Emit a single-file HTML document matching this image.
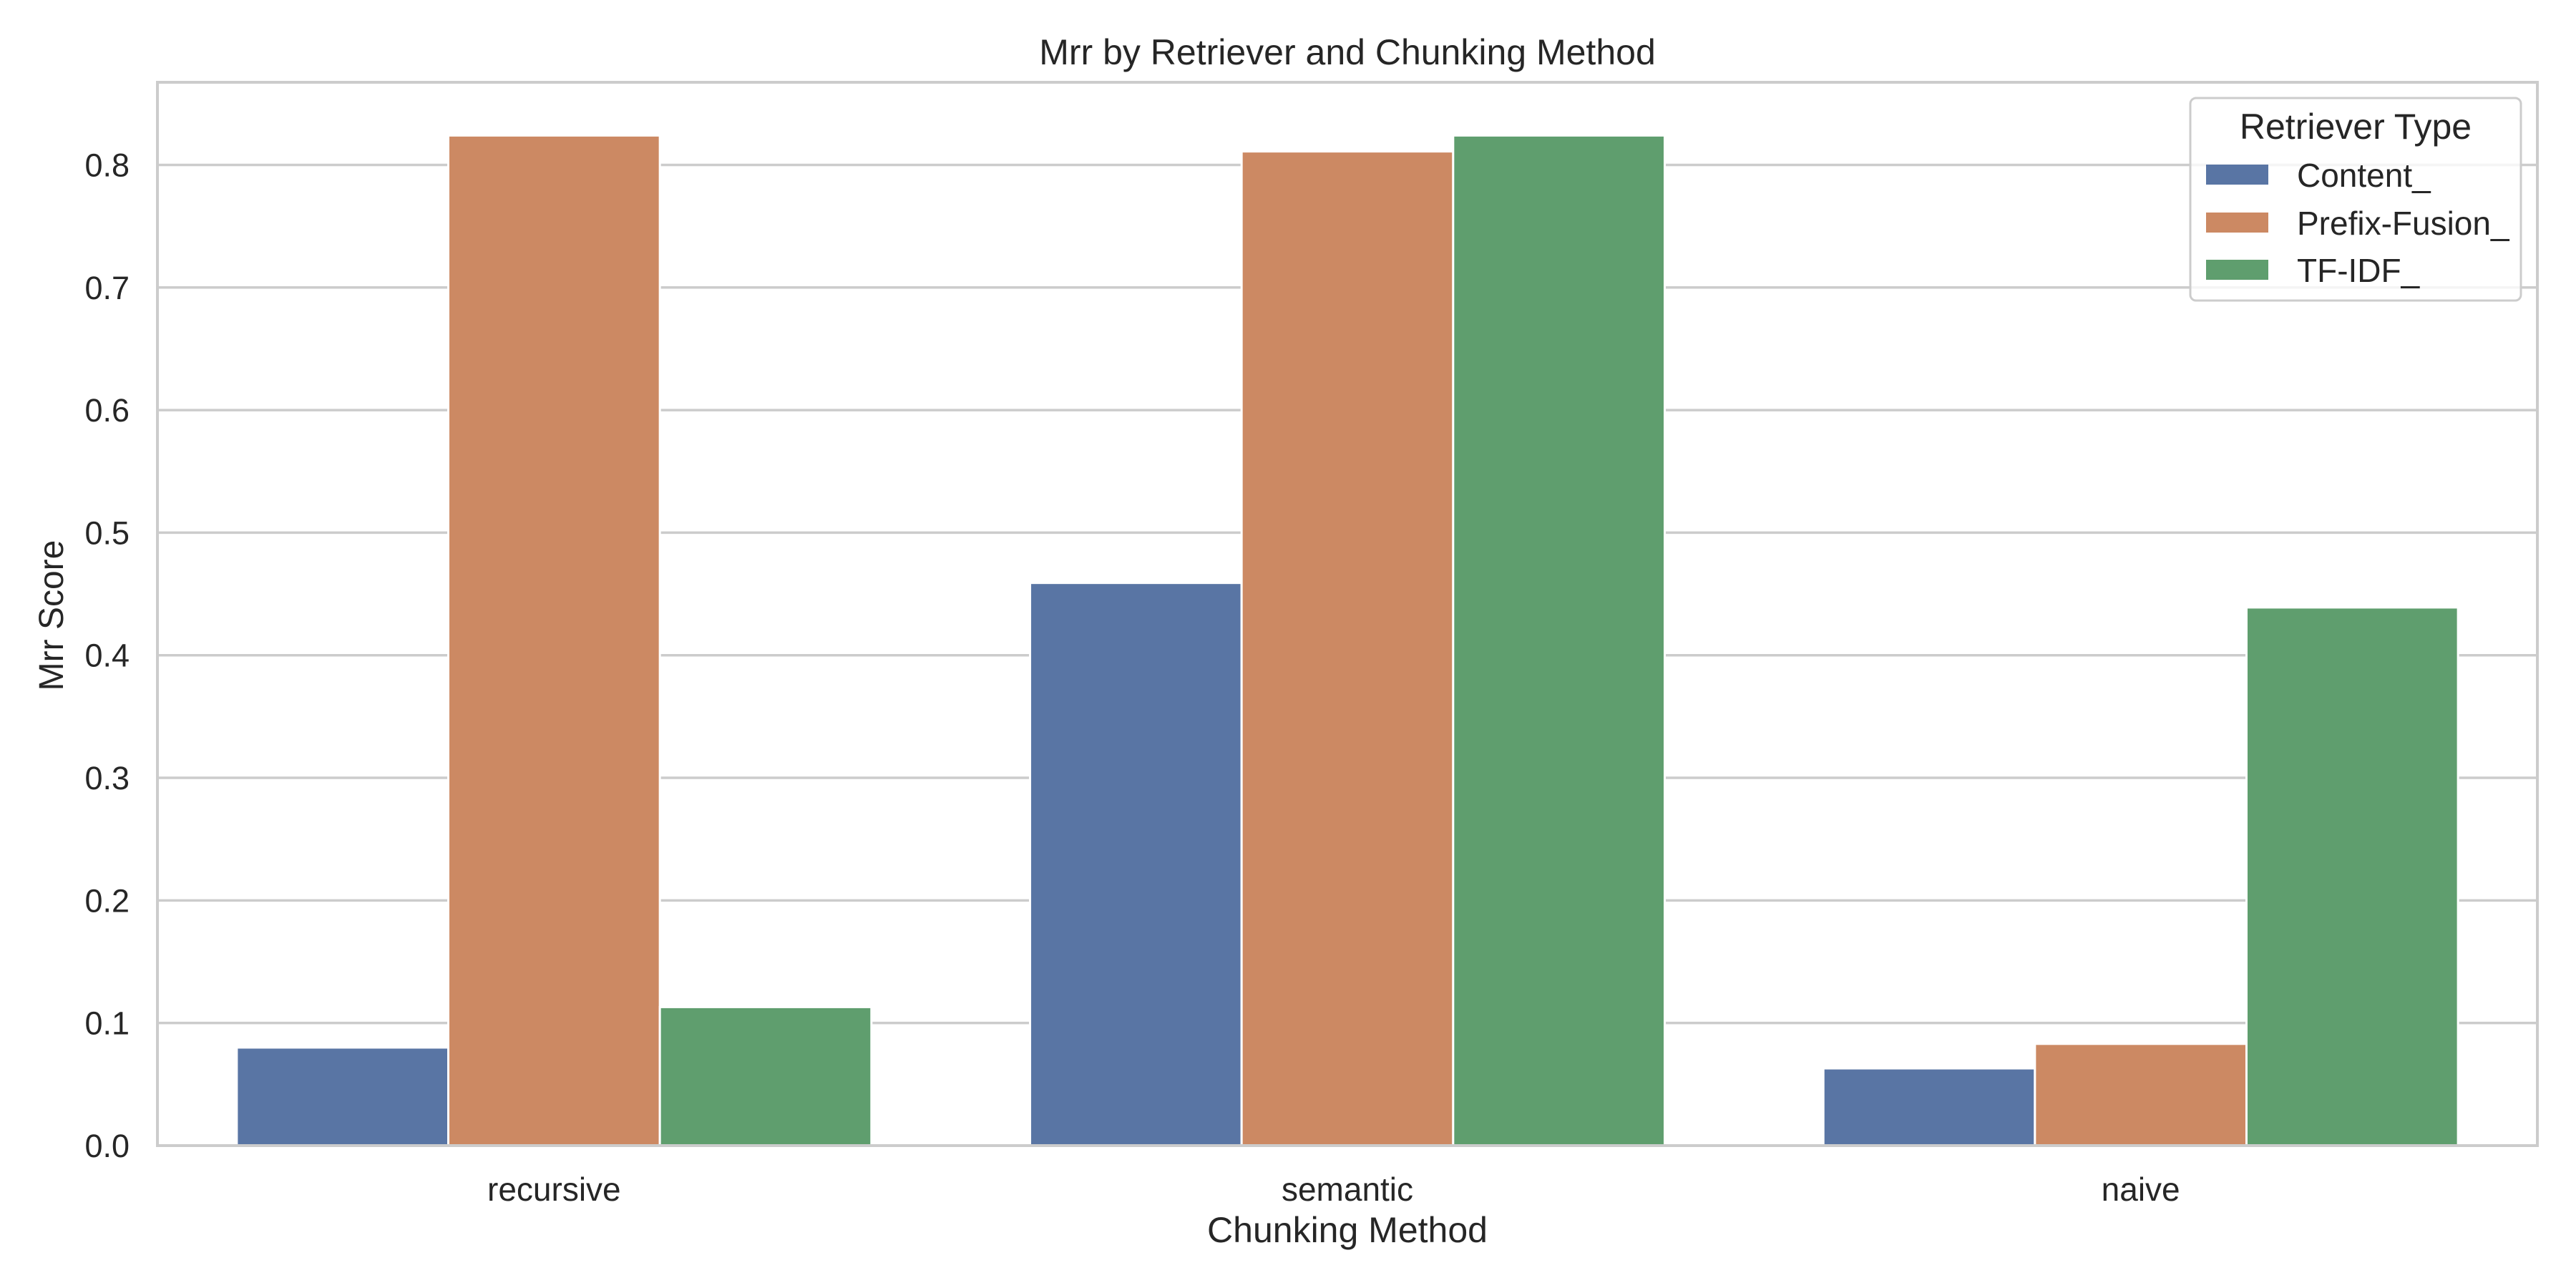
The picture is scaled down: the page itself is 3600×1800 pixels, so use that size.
<!DOCTYPE html>
<html><head><meta charset="utf-8"><style>
html,body{margin:0;padding:0;background:#fff}
svg{display:block;font-family:"Liberation Sans",Arial,sans-serif}
</style></head><body>
<svg id="chart" width="3600" height="1800" viewBox="0 0 3600 1800" xmlns="http://www.w3.org/2000/svg">
<rect x="0" y="0" width="3600" height="1800" fill="#fff"/>
<text x="1883" y="90" text-anchor="middle" font-size="50" fill="#262626">Mrr by Retriever and Chunking Method</text>
<g id="grid"></g>
<g id="bars"></g>
<g id="axes"></g>
<text transform="translate(88,860) rotate(-90)" text-anchor="middle" font-size="48" fill="#262626">Mrr Score</text>
<text x="1883" y="1736" text-anchor="middle" font-size="50" fill="#262626">Chunking Method</text>
<g id="legend">
<rect x="3061" y="137" width="462" height="283" rx="8" fill="#fff" fill-opacity="0.8" stroke="#ccc" stroke-width="3"/>
<text x="3292" y="194" text-anchor="middle" font-size="50" fill="#262626">Retriever Type</text>
</g>
</svg>
<script>
const categories = ["recursive", "semantic", "naive"];
const seriesNames = ["Content_", "Prefix-Fusion_", "TF-IDF_"];
const contentValues = [0.080, 0.459, 0.063];
const prefixFusionValues = [0.824, 0.811, 0.083];
const tfidfValues = [0.113, 0.824, 0.439];
const yTicks = [0.0, 0.1, 0.2, 0.3, 0.4, 0.5, 0.6, 0.7, 0.8];
const yTickLabels = ["0.0", "0.1", "0.2", "0.3", "0.4", "0.5", "0.6", "0.7", "0.8"];

const NS = "http://www.w3.org/2000/svg";
const colors = ["#5975a4", "#cc8963", "#5f9e6e"];
const L = 220, R = 3546, T = 115, B = 1601;
const yMax = 0.8674;
function yScale(v){ return B - (v / yMax) * (B - T); }
const groupW = (R - L) / categories.length;
function xCenter(i){ return L + groupW * (i + 0.5); }
const barW = groupW * 0.8 / seriesNames.length;
function mk(tag, attrs, parent){
  const el = document.createElementNS(NS, tag);
  for (const k in attrs) el.setAttribute(k, attrs[k]);
  parent.appendChild(el);
  return el;
}
const grid = document.getElementById("grid");
const bars = document.getElementById("bars");
const axes = document.getElementById("axes");
const legend = document.getElementById("legend");

yTicks.forEach((t, i) => {
  const y = yScale(t);
  const g = mk("line", {x1: L, x2: R, y1: y, y2: y, stroke: "#cccccc", "stroke-width": 3.5}, grid);
  
  
  const lab = mk("text", {x: 181, y: y + 16, "text-anchor": "end", "font-size": 45, fill: "#262626"}, axes);
  lab.textContent = yTickLabels[i];
  
  
});

const allSeries = [contentValues, prefixFusionValues, tfidfValues];
allSeries.forEach((vals, s) => {
  vals.forEach((v, i) => {
    const x = xCenter(i) - barW * seriesNames.length / 2 + s * barW;
    const y = yScale(v);
    const r = mk("rect", {x: x, y: y, width: barW, height: B - y, fill: colors[s], stroke: "#fff", "stroke-width": 3}, bars);
    
    
  });
});

categories.forEach((c, i) => {
  const t = mk("text", {x: xCenter(i), y: 1678, "text-anchor": "middle", "font-size": 46, fill: "#262626"}, axes);
  t.textContent = c;
  
  
});

const frame = mk("rect", {x: L, y: T, width: R - L, height: B - T, fill: "none", stroke: "#cccccc", "stroke-width": 4}, axes);



const patchY = [230, 297, 363];
seriesNames.forEach((n, s) => {
  const p = mk("rect", {x: 3083, y: patchY[s], width: 87, height: 28, fill: colors[s]}, legend);
  
  
  const t = mk("text", {x: 3210, y: patchY[s] + 31, "font-size": 46, fill: "#262626"}, legend);
  t.textContent = n;
  
  
});
</script>
</body></html>
